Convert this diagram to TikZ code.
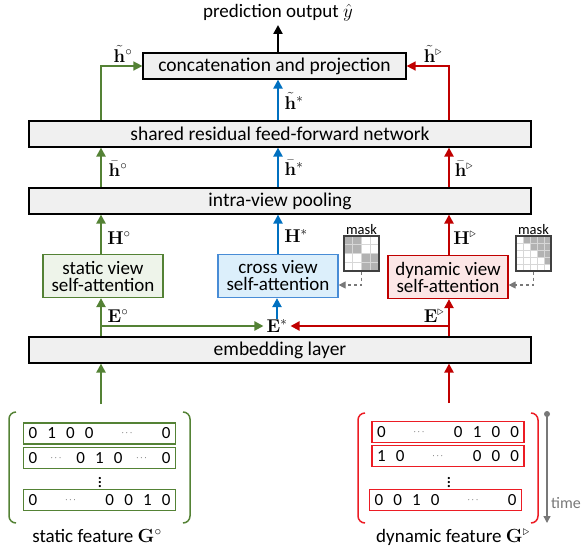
\documentclass[tikz,border=0pt]{standalone}
\usepackage{fix-cm}
\usepackage{amsmath}
\usepackage{amssymb}
\usepackage[no-math]{fontspec}
\setmainfont{Carlito}
\usepackage{tikz}
\usepackage{xcolor}
\usetikzlibrary{arrows.meta}

\definecolor{gcol}{RGB}{84,130,53}
\definecolor{bcol}{RGB}{0,112,192}
\definecolor{rcol}{RGB}{192,0,0}
\definecolor{rbright}{RGB}{236,28,36}
\definecolor{boxgray}{RGB}{240,240,240}
\definecolor{gfill}{RGB}{238,244,234}
\definecolor{bfill}{RGB}{220,239,251}
\definecolor{bline}{RGB}{72,140,214}
\definecolor{rfill}{RGB}{252,230,230}
\definecolor{maskgray}{RGB}{178,178,178}
\definecolor{gridgray}{RGB}{215,215,215}
\definecolor{dashgray}{RGB}{120,120,120}

\newcommand{\mdots}{\raisebox{3pt}{\fontsize{9}{9}\selectfont$\cdots$}}
\newcommand{\widesp}{\spaceskip=0.6em\relax}

\begin{document}
\begin{tikzpicture}[x=1pt,y=-1pt,
  headtip/.style={-{Triangle[length=9pt,width=9pt]}},
  layerbox/.style={draw,line width=1.2pt,fill=boxgray,minimum width=502pt,minimum height=26pt,inner sep=0pt,font=\fontsize{19.5}{22}\selectfont},
  viewbox/.style={line width=1.2pt,minimum width=120pt,minimum height=43pt,inner sep=0pt,align=center,font=\fontsize{19}{17}\selectfont},
  lbl/.style={inner sep=0pt,font=\fontsize{18.5}{20}\selectfont},
  txt/.style={font=\fontsize{19}{22}\selectfont},
  garr/.style={headtip,draw=gcol,line width=2.2pt},
  barr/.style={headtip,draw=bcol,line width=2.2pt},
  rarr/.style={headtip,draw=rcol,line width=2.2pt},
  karr/.style={headtip,draw=black,line width=2.2pt},
  gthin/.style={garr,line width=1.5pt},
  rthin/.style={rarr,line width=1.5pt},
  maskframe/.style={draw=black!75,line width=1.1pt,minimum size=35pt,inner sep=0pt},
  masklbl/.style={font=\fontsize{14.5}{16}\selectfont,inner sep=1pt,anchor=south},
  maskarr/.style={draw=dashgray,dashed,line width=1.2pt,-{Triangle[length=7pt,width=7pt]}},
  rowbox/.style={line width=1.3pt,minimum height=21pt,inner xsep=5pt,inner ysep=0pt,text width=142pt,font=\fontsize{17}{20}\selectfont},
  bracket/.style={line width=1.5pt,rounded corners=7pt}]
\useasboundingbox (0,0) rectangle (581,550);
\coordinate (gx) at (101,0);
\coordinate (bx) at (278,0);
\coordinate (rx) at (449,0);

\node[txt] (out) at (278,13) {prediction output $\hat{y}$};
\node[layerbox,minimum width=263pt] (concat) at (274.5,66) {concatenation and projection};
\node[layerbox] (shared) at (280,134) {shared residual feed-forward network};
\node[layerbox] (pool) at (280,201) {intra-view pooling};
\node[viewbox,draw=gcol,fill=gfill] (static) at (103,276) {static view\\self-attention};
\node[viewbox,draw=bline,fill=bfill] (cross) at (278,276) {cross view\\self-attention};
\node[viewbox,draw=rcol,fill=rfill] (dynamic) at (448,277) {dynamic view\\self-attention};
\node[layerbox] (embed) at (280,350) {embedding layer};
\node[lbl,inner xsep=3pt] (Estar) at (277,326) {$\mathbf{E}^{*}$};

\draw[karr] (concat.north -| bx) -- (out.south -| bx);
\draw[gthin] (shared.north -| gx) |- (concat.west);
\draw[rthin] (shared.north -| rx) |- (concat.east);
\draw[barr] (shared.north -| bx) -- (concat.south -| bx);
\draw[garr] (pool.north -| gx) -- (shared.south -| gx);
\draw[barr] (pool.north -| bx) -- (shared.south -| bx);
\draw[rarr] (pool.north -| rx) -- (shared.south -| rx);
\draw[garr] (static.north -| gx) -- (pool.south -| gx);
\draw[barr] (cross.north -| bx) -- (pool.south -| bx);
\draw[rarr] (dynamic.north -| rx) -- (pool.south -| rx);
\draw[garr] (embed.north -| gx) -- (static.south -| gx);
\draw[rarr] (embed.north -| rx) -- (dynamic.south -| rx);
\draw[garr] (Estar.west -| gx) -- (Estar.west);
\draw[rarr] (Estar.east -| rx) -- (Estar.east);
\draw[barr] (Estar.north) -- (Estar.north |- cross.south);

\node[lbl] (hts) at (123,54) {$\tilde{\mathbf{h}}^{\circ}$};
\node[lbl] (htd) at (433,54) {$\tilde{\mathbf{h}}^{\triangleright}$};
\node[lbl] (htc) at (294,101) {$\tilde{\mathbf{h}}^{*}$};
\node[lbl] (hbs) at (118,169) {$\bar{\mathbf{h}}^{\circ}$};
\node[lbl] (hbc) at (294,168) {$\bar{\mathbf{h}}^{*}$};
\node[lbl] (hbd) at (464,169) {$\bar{\mathbf{h}}^{\triangleright}$};
\node[lbl] (Hs) at (119,238) {$\mathbf{H}^{\circ}$};
\node[lbl] (Hc) at (296,236) {$\mathbf{H}^{*}$};
\node[lbl] (Hd) at (465,238) {$\mathbf{H}^{\triangleright}$};
\node[lbl] (Es) at (118,316) {$\mathbf{E}^{\circ}$};
\node[lbl] (Ed) at (434,316) {$\mathbf{E}^{\triangleright}$};

\foreach \r/\c in {0/0,0/1,1/0,1/1,2/2,2/3,3/2,3/3}
  \fill[maskgray] (344+\c*8.75,236+\r*8.75) rectangle ++(8.75,8.75);
\foreach \i in {1,2,3} {
  \draw[gridgray,line width=0.6pt] (344+\i*8.75,236) -- ++(0,35);
  \draw[gridgray,line width=0.6pt] (344,236+\i*8.75) -- ++(35,0);
}
\node[maskframe] (m1) at (361.5,253.5) {};
\node[masklbl] (m1t) at (m1.north) {mask};
\foreach \r in {0,...,3}
  \foreach \c in {\r,...,3}
    \fill[maskgray] (516+\c*7+7,236+\r*7) rectangle ++(7,7);
\foreach \i in {1,...,4} {
  \draw[gridgray,line width=0.6pt] (516+\i*7,236) -- ++(0,35);
  \draw[gridgray,line width=0.6pt] (516,236+\i*7) -- ++(35,0);
}
\node[maskframe] (m2) at (533.5,253.5) {};
\node[masklbl] (m2t) at (m2.north) {mask};
\draw[maskarr] (m1.south) |- ([yshift=-9pt]cross.east);
\draw[maskarr] (m2.south) |- ([yshift=-8pt]dynamic.east);

\node[rowbox,draw=gcol] (sr1) at (99.5,433.5) {\widesp 0 1 0 0\hfill\mdots\hfill0};
\node[rowbox,draw=gcol] (sr2) at (99.5,458) {\widesp 0\hfill\mdots\hfill0 1 0\hfill\mdots\hfill0};
\node[lbl] (sdots) at (100,480) {$\vdots$};
\node[rowbox,draw=gcol] (sr3) at (99.5,500) {\widesp 0\hfill\mdots\hfill0 0 1 0};
\draw[gcol,bracket] (16,412) -- (9,412) -- (9,523) -- (16,523);
\draw[gcol,bracket] (183,412) -- (190,412) -- (190,523) -- (183,523);
\node[txt] (sfeat) at (97,536) {static feature $\mathbf{G}^{\circ}$};

\node[rowbox,draw=rbright] (dr1) at (448,432) {\widesp 0\hfill\mdots\hfill0 1 0 0};
\node[rowbox,draw=rbright] (dr2) at (448,456) {\widesp 1 0\hfill\mdots\hfill0 0 0};
\node[lbl] (ddots) at (449,480) {$\vdots$};
\node[rowbox,draw=rbright] (dr3) at (445.5,500) {\widesp 0 0 1 0\hfill\mdots\hfill0};
\draw[rbright,bracket] (365,413) -- (358,413) -- (358,523) -- (365,523);
\draw[rbright,bracket] (531,413) -- (538,413) -- (538,523) -- (531,523);
\node[txt] (dfeat) at (453,537) {dynamic feature $\mathbf{G}^{\triangleright}$};

\coordinate (gin) at (101,404);
\coordinate (rin) at (449,403);
\draw[garr] (gin) -- (embed.south -| gx);
\draw[rarr] (rin) -- (embed.south -| rx);

\coordinate (t0) at (547,414);
\coordinate (t1) at (547,523);
\fill[dashgray] (t0) circle (3);
\draw[draw=dashgray,line width=1.3pt,-{Triangle[length=7pt,width=7pt]}] (t0) -- (t1);
\node[font=\fontsize{16}{18}\selectfont,text=dashgray,anchor=west,inner sep=0pt] (time) at (551,503) {time};
\end{tikzpicture}
\end{document}
